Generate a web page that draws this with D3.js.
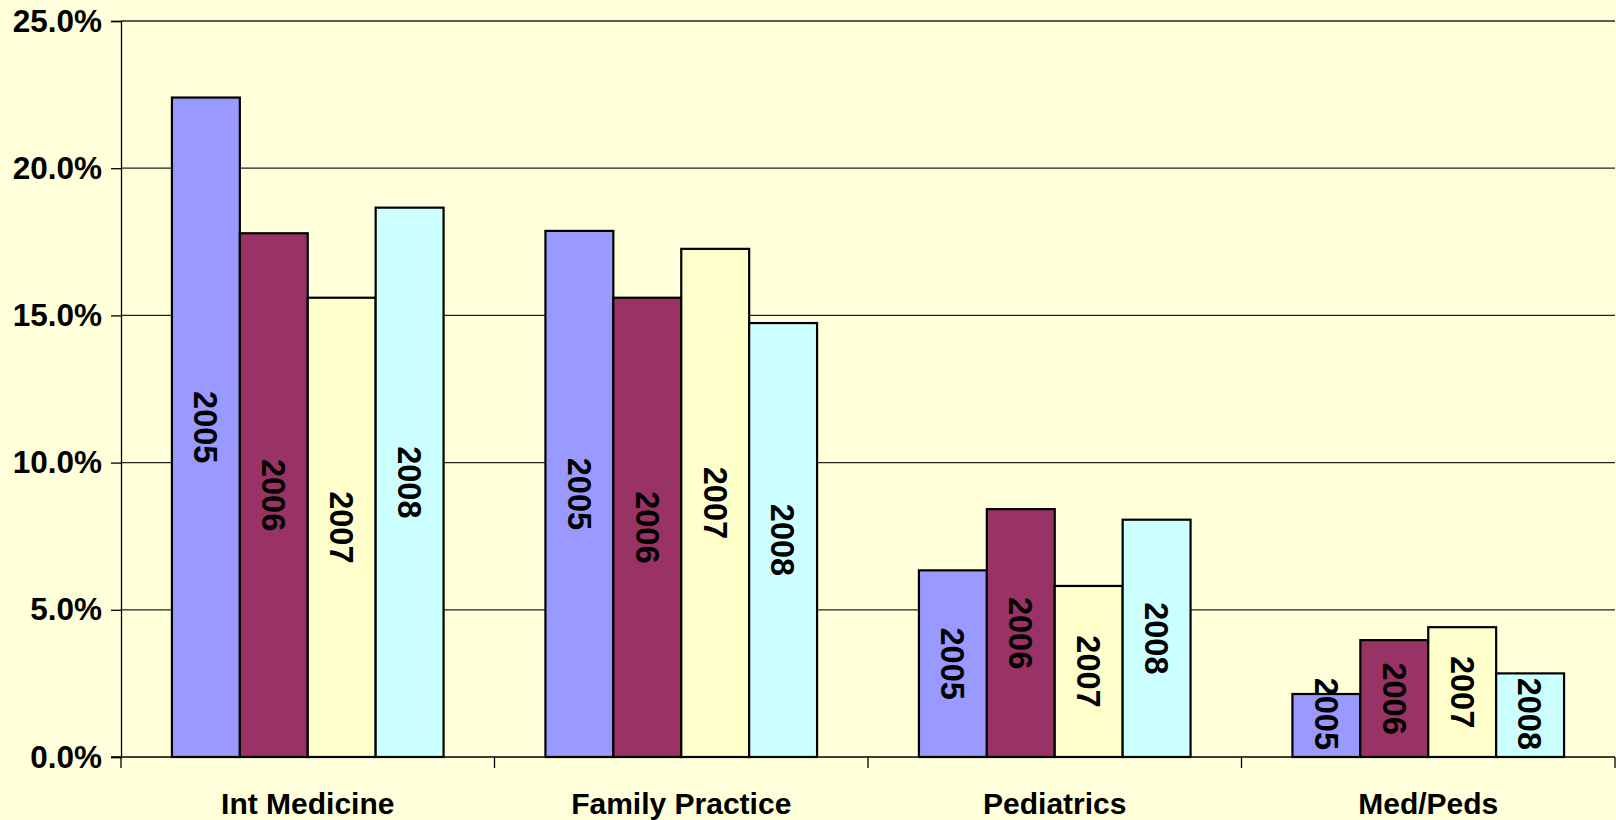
<!DOCTYPE html>
<html>
<head>
<meta charset="utf-8">
<script src="https://cdn.jsdelivr.net/npm/d3@7"></script>
<style>
  html, body { margin: 0; padding: 0; background: #ffffd9; }
  svg { display: block; }
  text { font-family: "Liberation Sans", Arial, sans-serif; font-weight: bold; fill: #000; }
</style>
</head>
<body>
<script>
var w = 1616;
var h = 820;

var categories = ["Int Medicine", "Family Practice", "Pediatrics", "Med/Peds"];
var years = ["2005", "2006", "2007", "2008"];
var colors = ["#9999ff", "#993366", "#ffffcc", "#ccffff"];

// percent values per year, in the order of categories
var v2005 = [22.4, 17.87, 6.34, 2.14];
var v2006 = [17.79, 15.6, 8.42, 3.97];
var v2007 = [15.6, 17.26, 5.81, 4.41];
var v2008 = [18.66, 14.74, 8.06, 2.84];
var yTicks = [0, 5, 10, 15, 20, 25];

var series = [v2005, v2006, v2007, v2008];

var margin = {left: 121, right: 1, top: 21, bottom: 63};

var svg = d3.select("body")
            .append("svg")
            .attr("width", w)
            .attr("height", h);

var x = d3.scaleBand()
          .domain(categories)
          .range([margin.left, w - margin.right]);

// gap width 150% of a bar, like the original spreadsheet chart
var inner = x.bandwidth() / (years.length + 1.5);
var xYear = d3.scaleBand()
              .domain(years)
              .range([0.75 * inner, 0.75 * inner + inner * years.length]);

var y = d3.scaleLinear()
          .domain([0, 25])
          .range([h - margin.bottom, margin.top]);

// gridlines
svg.append("g")
   .selectAll("line")
   .data(yTicks.slice(1))
   .enter()
   .append("line")
   .attr("x1", margin.left)
   .attr("x2", w - margin.right)
   .attr("y1", function(d){ return y(d); })
   .attr("y2", function(d){ return y(d); })
   .attr("stroke", "#222")
   .attr("stroke-width", 1.3);

// y axis
var yAxis = d3.axisLeft(y)
              .tickValues(yTicks)
              .tickSize(10)
              .tickPadding(9)
              .tickFormat(function(d){ return d3.format(".1f")(d) + "%"; });

var gy = svg.append("g")
            .attr("transform", "translate(" + margin.left + ",0)")
            .call(yAxis);
gy.select(".domain").attr("stroke", "#000").attr("stroke-width", 1.3);
gy.selectAll(".tick line").attr("stroke", "#000").attr("stroke-width", 1.3);
gy.selectAll(".tick text")
  .attr("font-size", 31.5)
  .attr("font-family", "Liberation Sans, Arial, sans-serif")
  .attr("font-weight", "bold")
  .attr("fill", "#000");

// bars
var groups = svg.append("g")
   .selectAll("g")
   .data(categories)
   .enter()
   .append("g")
   .attr("transform", function(d){ return "translate(" + x(d) + ",0)"; });

var bars = groups.selectAll("g")
   .data(function(d, i){
       return years.map(function(yr, j){
           return {year: yr, value: series[j][i], color: colors[j]};
       });
   })
   .enter()
   .append("g");

bars.append("rect")
    .attr("x", function(d){ return xYear(d.year); })
    .attr("width", xYear.bandwidth())
    .attr("y", function(d){ return y(d.value); })
    .attr("height", function(d){ return y(0) - y(d.value); })
    .attr("fill", function(d){ return d.color; })
    .attr("stroke", "#000")
    .attr("stroke-width", 2.2);

bars.append("text")
    .text(function(d){ return d.year; })
    .attr("text-anchor", "middle")
    .attr("dy", "0.36em")
    .attr("font-size", 32.5)
    .attr("transform", function(d){
        var cx = xYear(d.year) + xYear.bandwidth() / 2;
        var cy = (y(d.value) + y(0)) / 2;
        // keep the label clear of the axis on short bars
        var half = this.getComputedTextLength() / 2;
        cy = Math.min(cy, y(0) - 7 - half);
        return "translate(" + cx + "," + cy + ") rotate(90)";
    });

// x axis
svg.append("line")
   .attr("x1", margin.left - 10)
   .attr("x2", w - margin.right)
   .attr("y1", y(0))
   .attr("y2", y(0))
   .attr("stroke", "#000")
   .attr("stroke-width", 1.3);

// category separators
var seps = categories.map(function(c){ return x(c); }).concat([x(categories[categories.length - 1]) + x.bandwidth()]);
svg.append("g")
   .selectAll("line")
   .data(seps)
   .enter()
   .append("line")
   .attr("x1", function(d){ return d; })
   .attr("x2", function(d){ return d; })
   .attr("y1", y(0))
   .attr("y2", y(0) + 11)
   .attr("stroke", "#000")
   .attr("stroke-width", 1.3);

svg.append("g")
   .selectAll("text")
   .data(categories)
   .enter()
   .append("text")
   .text(function(d){ return d; })
   .attr("x", function(d){ return x(d) + x.bandwidth() / 2; })
   .attr("y", 814)
   .attr("text-anchor", "middle")
   .attr("font-size", 30);
</script>
</body>
</html>
